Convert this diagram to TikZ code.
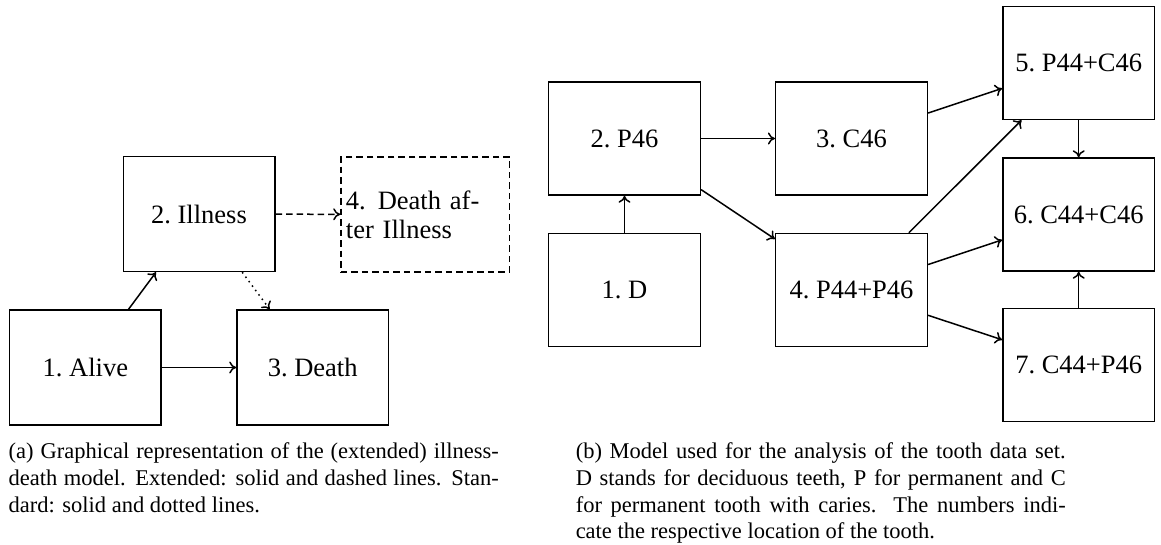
\documentclass[tikz,border=0pt]{standalone}
\usepackage{fontspec}
\setmainfont{Liberation Serif}
\usepackage{tikz}
\usetikzlibrary{positioning,arrows.meta}

\begin{document}
\begin{tikzpicture}[x=1pt,y=-1pt,line width=1.5pt,>={To[length=7pt,width=12pt]},
  box/.style={draw, inner sep=5pt, align=center, font=\fontsize{26.5}{29}\selectfont\frenchspacing},
  illbox/.style={box, minimum width=151.5pt, minimum height=115pt},
  toothbox/.style={box, minimum width=151.7pt, minimum height=113pt},
  capt/.style={anchor=north west, inner sep=0pt, align=justify, text width=490pt, font=\fontsize{22.5}{26.7}\selectfont}]
\useasboundingbox (0,0) rectangle (1161,544);
% (a) illness-death model
\node[illbox] (alive) at (85.4,367.5) {1. Alive};
\node[illbox] (ill) at (199,214) {2. Illness};
\node[illbox] (death) at (312.7,367.5) {3. Death};
\node[box, dash pattern=on 6.5pt off 4pt, minimum width=168.7pt, minimum height=115pt, text width=158.7pt, align=left] (dai) at (425.3,214.5) {4.\hspace{12pt}Death af-\\ter Illness};
\draw[->] (alive) -- (ill);
\draw[->] (alive) -- (death);
\draw[->, dash pattern=on 6.5pt off 4pt] (ill) -- (dai);
\draw[->, dash pattern=on 1.5pt off 4pt] (ill) -- (death);
% (b) tooth model
\node[toothbox] (d) at (624.5,290) {1. D};
\node[toothbox] (p46) at (624.5,138.5) {2. P46};
\node[toothbox] (c46) at (851.5,138.5) {3. C46};
\node[toothbox] (pp) at (851.5,290) {4. P44+P46};
\node[toothbox] (pc) at (1078.7,63) {5. P44+C46};
\node[toothbox] (cc) at (1078.7,214.5) {6. C44+C46};
\node[toothbox] (cp) at (1078.7,365) {7. C44+P46};
\draw[->] (d) -- (p46);
\draw[->] (p46) -- (c46);
\draw[->] (p46) -- (pp);
\draw[->] (c46) -- (pc);
\draw[->] (pp) -- (pc);
\draw[->] (pp) -- (cc);
\draw[->] (pp) -- (cp);
\draw[->] (pc) -- (cc);
\draw[->] (cp) -- (cc);
% captions
\node[capt] (capa) at (8,442) {\tolerance=10000\relax
  (a) Graphical representation of the (extended) illness-\linebreak death model. Extended: solid and dashed lines. Stan-\linebreak dard: solid and dotted lines.};
\node[capt] (capb) at (575,442) {\tolerance=10000\relax
  (b) Model used for the analysis of the tooth data set.\linebreak D stands for deciduous teeth, P for permanent and C\linebreak for permanent tooth with caries. The numbers indi-\linebreak cate the respective location of the tooth.};
\end{tikzpicture}
\end{document}
